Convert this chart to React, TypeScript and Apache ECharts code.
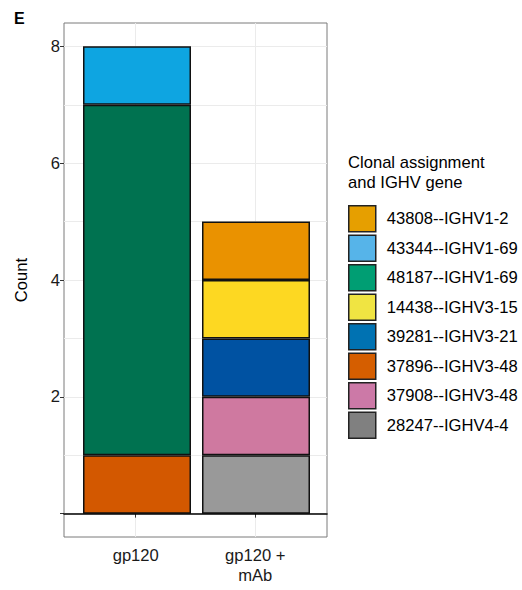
import React, { useEffect, useRef } from "react";
import * as echarts from "echarts";

const groups = ["gp120", "gp120 +\nmAb"];
const groupPositions = [1, 2];
// legend order (top to bottom)
const clones = [
  "43808--IGHV1-2",
  "43344--IGHV1-69",
  "48187--IGHV1-69",
  "14438--IGHV3-15",
  "39281--IGHV3-21",
  "37896--IGHV3-48",
  "37908--IGHV3-48",
  "28247--IGHV4-4",
];
// counts per clone: [gp120, gp120 + mAb]
const counts: number[][] = [
  [0, 1],
  [1, 0],
  [6, 0],
  [0, 1],
  [0, 1],
  [1, 0],
  [0, 1],
  [0, 1],
];
const barColors = ["#EA9200", "#0EA5E1", "#007250", "#FDD822", "#0052A2", "#D35800", "#CF79A0", "#999999"];
const legendColors = ["#E69F00", "#56B4E9", "#009E73", "#F0E442", "#0072B2", "#D55E00", "#CC79A7", "#808080"];
const yGridValues = [0, 1, 2, 3, 4, 5, 6, 7, 8];
const yTickValues = [0, 2, 4, 6, 8];
const yLabelValues = [2, 4, 6, 8];

const FONT = "Liberation Sans, Arial, Helvetica, sans-serif";
const FS = 16.6;

export default function App() {
  const ref = useRef<HTMLDivElement>(null);
  useEffect(() => {
    if (!ref.current) return;
    const chart = echarts.init(ref.current, undefined, { renderer: "svg" });
    // stack from bottom: reverse legend order
    const order = clones.map((_, i) => i).reverse();
    const series: any[] = order.map((ci) => ({
      type: "bar",
      name: clones[ci],
      stack: "total",
      xAxisIndex: 2,
      yAxisIndex: 2,
      barWidth: 108,
      data: counts[ci].map((v) => (v === 0 ? "-" : v)),
      itemStyle: { color: barColors[ci], borderColor: "#111", borderWidth: 1.5 },
      z: 3,
    }));
    chart.setOption({
      animation: false,
      textStyle: { fontFamily: FONT },
      grid: [
        {
          left: 64,
          right: 195,
          top: 23,
          bottom: 53,
          show: true,
          borderColor: "#7a7a7a",
          borderWidth: 1,
          containLabel: false,
        },
        {
          left: 77.5,
          width: 238,
          top: 23,
          bottom: 53,
          show: false,
          containLabel: false,
        },
      ],
      xAxis: [
        {
          gridIndex: 0,
          type: "value",
          min: 0.4,
          max: 2.6,
          axisLine: { show: false },
          axisTick: {
            show: true,
            customValues: groupPositions,
            length: 4,
            lineStyle: { color: "#333", width: 1 },
          },
          axisLabel: {
            customValues: groupPositions,
            formatter: (v: number) => groups[groupPositions.indexOf(v)] ?? "",
            fontSize: FS,
            color: "#1a1a1a",
            lineHeight: 20,
            margin: 8,
            fontFamily: FONT,
          },
          splitLine: { show: true, lineStyle: { color: "#EBEBEB", width: 1 } },
        },
        {
          gridIndex: 0,
          type: "value",
          min: 0.4,
          max: 2.6,
          position: "bottom",
          z: 10,
          axisLine: { show: true, onZero: true, onZeroAxisIndex: 0, lineStyle: { color: "#000", width: 1.5 } },
          axisTick: { show: false },
          axisLabel: { show: false },
          splitLine: { show: false },
        },
        {
          gridIndex: 1,
          type: "category",
          data: groups,
          show: false,
        },
      ],
      yAxis: [
        {
          gridIndex: 0,
          type: "value",
          min: -0.4,
          max: 8.4,
          position: "left",
          axisLine: { show: false },
          axisTick: { show: false, customValues: yGridValues },
          axisLabel: { show: false, customValues: yGridValues },
          splitLine: { show: true, lineStyle: { color: "#EBEBEB", width: 1 } },
        },
        {
          gridIndex: 0,
          type: "value",
          min: -0.4,
          max: 8.4,
          position: "left",
          offset: 0,
          axisLine: { show: false },
          axisTick: {
            show: true,
            customValues: yTickValues,
            length: 4,
            lineStyle: { color: "#333", width: 1 },
          },
          axisLabel: {
            customValues: yLabelValues,
            fontSize: FS,
            color: "#1a1a1a",
            margin: 4,
            fontFamily: FONT,
          },
          splitLine: { show: false },
          name: "Count",
          nameLocation: "middle",
          nameGap: 34,
          nameTextStyle: { fontSize: FS, color: "#000", fontFamily: FONT },
        },
        {
          gridIndex: 1,
          type: "value",
          min: -0.4,
          max: 8.4,
          show: false,
        },
      ],
      legend: {
        orient: "vertical",
        left: 348,
        top: 205,
        padding: 0,
        itemWidth: 27,
        itemHeight: 26,
        itemGap: 2,
        icon: "rect",
        selectedMode: false,
        textStyle: { fontSize: FS, color: "#000", fontFamily: FONT, padding: [0, 0, 0, 6] },
        data: clones.map((c, i) => ({
          name: c,
          itemStyle: { color: legendColors[i], borderColor: "#222", borderWidth: 1.5 },
        })),
      },
      graphic: [
        {
          type: "text",
          left: 14,
          top: 10,
          style: { text: "E", font: `bold 16px ${FONT}`, fill: "#000" },
        },
        {
          type: "text",
          left: 348,
          top: 152,
          style: {
            text: "Clonal assignment\nand IGHV gene",
            font: `${FS}px ${FONT}`,
            lineHeight: 20,
            fill: "#000",
          },
        },
      ],
      series,
    });
    return () => chart.dispose();
  }, []);
  return (
    <div
      ref={ref}
      style={{ position: "fixed", left: 0, top: 0, width: 522, height: 590, background: "#fff" }}
    />
  );
}
